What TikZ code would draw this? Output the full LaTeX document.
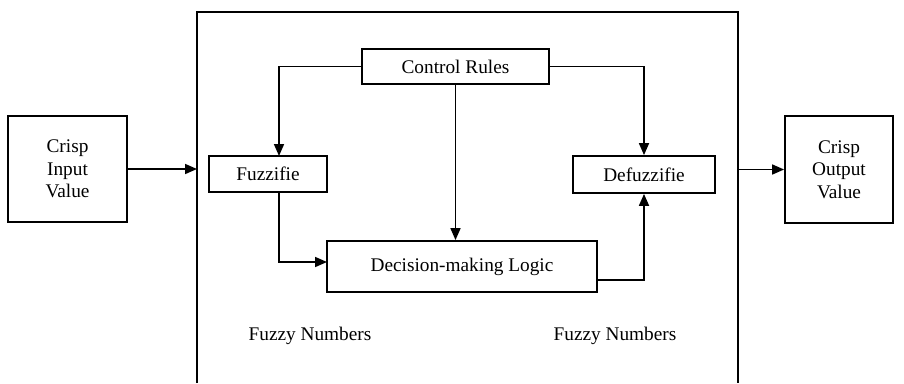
\documentclass[tikz,border=0pt]{standalone}
\usepackage{fontspec}
\setmainfont{Liberation Serif}
\usetikzlibrary{arrows.meta}
\begin{document}
\begin{tikzpicture}[x=1pt,y=-1pt,
  every node/.style={font=\fontsize{19.3}{22.5}\selectfont, inner sep=0pt},
  blk/.style={draw, line width=1.8pt, align=center},
  conn/.style={line width=1.7pt},
  arr/.style={conn, -{Triangle[length=12pt,width=10pt]}}]
\useasboundingbox (0,0) rectangle (904,383);
% outer frame
\coordinate (ob1) at (197,383);
\coordinate (ob2) at (197,12);
\coordinate (ob3) at (738,12);
\coordinate (ob4) at (738,383);
\draw[conn, line width=1.8pt] (ob1) -- (ob2) -- (ob3) -- (ob4);
% blocks
\node[blk, minimum width=119pt, minimum height=106pt] (inp) at (67.5,169) {Crisp\\Input\\Value};
\node[blk, minimum width=108pt, minimum height=107pt] (outp) at (839,169.5) {Crisp\\Output\\Value};
\node[blk, minimum width=187pt, minimum height=35pt] (rules) at (455.5,66.5) {Control Rules};
\node[blk, minimum width=118pt, minimum height=36pt] (fuzz) at (268,174) {Fuzzifie};
\node[blk, minimum width=142pt, minimum height=37pt] (defuzz) at (644,174.5) {Defuzzifie};
\node[blk, minimum width=270pt, minimum height=51pt] (dec) at (462,266.5) {Decision-making Logic};
\node (fn1) at (310,336) {Fuzzy Numbers};
\node (fn2) at (615,336) {Fuzzy Numbers};
% helper coordinates
\coordinate (inL) at (197,169);
\coordinate (outR) at (738,169.5);
\coordinate (fa) at (279,156);
\coordinate (fb) at (279,192);
\coordinate (dw) at (327,262);
\coordinate (de) at (597,280);
% connectors
\draw[arr] (inp.east) -- (inL);
\draw[arr] (outR) -- (outp.west);
\draw[arr] (rules.west) -| (fa);
\draw[arr] (rules.east) -| (defuzz.north);
\draw[arr] (rules.south) -- (rules.south |- dec.north);
\draw[arr] (fb) |- (dw);
\draw[arr] (de) -| (defuzz.south);
\end{tikzpicture}
\end{document}
